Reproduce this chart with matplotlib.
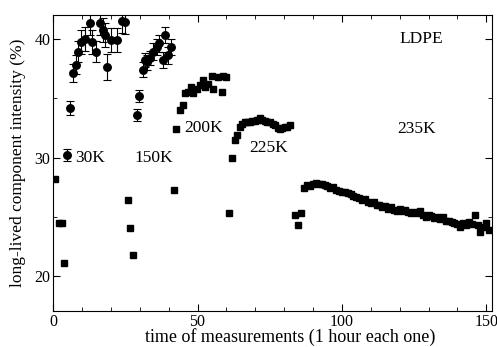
import matplotlib
matplotlib.use("Agg")
import matplotlib.pyplot as plt
from matplotlib.ticker import MultipleLocator

plt.rcParams["font.family"] = ["Liberation Serif", "DejaVu Serif"]
plt.rcParams["font.size"] = 12

# 30K: drop points, then points with error bars
x_drop30 = [0.6, 2.0, 2.9, 3.7]
y_drop30 = [28.2, 24.5, 24.5, 21.1]
x_30 = [4.8, 5.8, 6.9, 7.8, 8.7, 9.8, 11.0, 12.7, 13.3, 15.0, 16.2, 17.3,
        17.9, 18.8, 20.2, 22.0, 23.7, 24.8]
y_30 = [30.2, 34.2, 37.1, 37.8, 38.9, 39.7, 40.0, 41.3, 39.7, 38.9, 41.3, 40.7,
        40.3, 37.6, 39.9, 39.9, 41.5, 41.4]
e_30 = [0.5, 0.6, 0.75, 0.8, 0.9, 1.0, 1.0, 1.0, 1.0, 0.9, 1.0, 1.0,
        1.0, 1.1, 1.0, 1.0, 1.0, 1.0]

# 150K
x_drop150 = [25.8, 26.7, 27.8]
y_drop150 = [26.4, 24.1, 21.8]
x_150 = [28.9, 29.8, 31.0, 31.8, 32.6, 33.5, 34.6, 35.8, 36.7, 37.9, 38.7, 39.8, 40.7]
y_150 = [33.6, 35.2, 37.4, 38.2, 38.0, 38.4, 38.9, 39.3, 39.6, 38.2, 40.3, 38.6, 39.3]
e_150 = [0.5, 0.5, 0.6, 0.6, 0.6, 0.6, 0.7, 0.7, 0.7, 0.7, 0.7, 0.7, 0.7]

# 200K
x_200 = [41.8, 42.7, 43.9, 44.8, 45.6, 46.8, 47.9, 48.5, 49.7, 50.8, 52.0, 52.5,
         53.7, 54.9, 55.4, 57.2, 58.3, 58.9, 59.8]
y_200 = [27.3, 32.4, 34.0, 34.4, 35.4, 35.5, 35.9, 35.4, 35.8, 36.1, 36.5, 35.9,
         36.2, 36.9, 35.8, 36.8, 35.5, 36.9, 36.8]

# 225K
x_225 = [60.9, 61.8, 62.9, 63.5, 64.7, 65.5, 66.4, 67.2, 68.1, 69.0, 69.9, 70.7,
         71.6, 72.4, 73.3, 74.2, 75.1, 76.0, 76.8, 77.7, 78.5, 79.4, 80.3, 81.1, 82.0]
y_225 = [25.3, 30.0, 31.5, 31.9, 32.6, 32.8, 33.0, 33.0, 33.0, 33.1, 33.1, 33.2,
         33.3, 33.2, 33.1, 33.0, 33.0, 32.8, 32.7, 32.5, 32.4, 32.5, 32.6, 32.6, 32.7]

# 235K
x_235 = [83.7, 84.9, 85.7,
         87, 88, 89, 90, 91, 92, 93, 94, 95, 96, 97, 98, 99, 100, 101, 102, 103,
         104, 105, 106, 107, 108, 109, 110, 111, 112, 113, 114, 115, 116, 117, 118,
         119, 120, 121, 122, 123, 124, 125, 126, 127, 128, 129, 130, 131, 132, 133,
         134, 135, 136, 137, 138, 139, 140, 141, 142, 143, 144, 145, 146, 147, 148,
         149, 150, 151]
y_235 = [25.2, 24.3, 25.3,
         27.4, 27.7, 27.6, 27.8, 27.9, 27.8, 27.8, 27.7, 27.6, 27.4, 27.5, 27.3,
         27.2, 27.1, 27.1, 27.0, 26.9, 26.8, 26.7, 26.6, 26.4, 26.5, 26.3, 26.2,
         26.3, 26.0, 26.0, 25.8, 25.9, 25.7, 25.8, 25.6, 25.5, 25.7, 25.5, 25.6,
         25.4, 25.3, 25.4, 25.3, 25.5, 25.2, 25.0, 25.2, 25.1, 24.9, 25.0, 24.8,
         25.0, 24.7, 24.7, 24.6, 24.5, 24.4, 24.2, 24.5, 24.3, 24.6, 24.4, 25.2,
         24.3, 23.7, 24.2, 24.5, 23.9]

labels = ["30K", "150K", "200K", "225K", "235K"]
label_x = [7.5, 28.3, 45.3, 67.8, 119.0]
label_y = [30.0, 30.0, 32.5, 30.8, 32.4]

fig = plt.figure(figsize=(4.97, 3.47), dpi=100)
ax = fig.add_axes([0.107, 0.104, 0.883, 0.853])

sq = dict(marker="s", color="black", linestyle="none", markersize=4.8)
for xs, ys in [(x_drop30, y_drop30), (x_drop150, y_drop150), (x_200, y_200),
               (x_225, y_225), (x_235, y_235)]:
    ax.plot(xs, ys, **sq)

for xs, ys, es in [(x_30, y_30, e_30), (x_150, y_150, e_150)]:
    ax.errorbar(xs, ys, yerr=es, fmt="o", color="black", markersize=5.4,
                elinewidth=0.8, capsize=2.6, capthick=0.8)

for t, tx, ty in zip(labels, label_x, label_y):
    ax.text(tx, ty, t, fontsize=12.5, va="center", ha="left")
ax.text(120, 40.0, "LDPE", fontsize=12.5, va="center", ha="left")

ax.set_xlim(0, 152)
ax.set_ylim(17.1, 42.0)
ax.xaxis.set_major_locator(MultipleLocator(50))
ax.xaxis.set_minor_locator(MultipleLocator(10))
ax.yaxis.set_major_locator(MultipleLocator(10))
ax.yaxis.set_minor_locator(MultipleLocator(5))
ax.tick_params(which="both", direction="in", top=True, right=True, labelsize=11.5)
ax.tick_params(which="major", length=5, pad=2)
ax.tick_params(which="minor", length=3)
ax.set_xlabel("time of measurements (1 hour each one)", fontsize=13, labelpad=0)
ax.xaxis.set_label_coords(0.54, -0.058)
ax.set_ylabel("long-lived component intensity (%)", fontsize=12.5, labelpad=6)

fig.savefig("out.png", dpi=100)
plt.close(fig)
